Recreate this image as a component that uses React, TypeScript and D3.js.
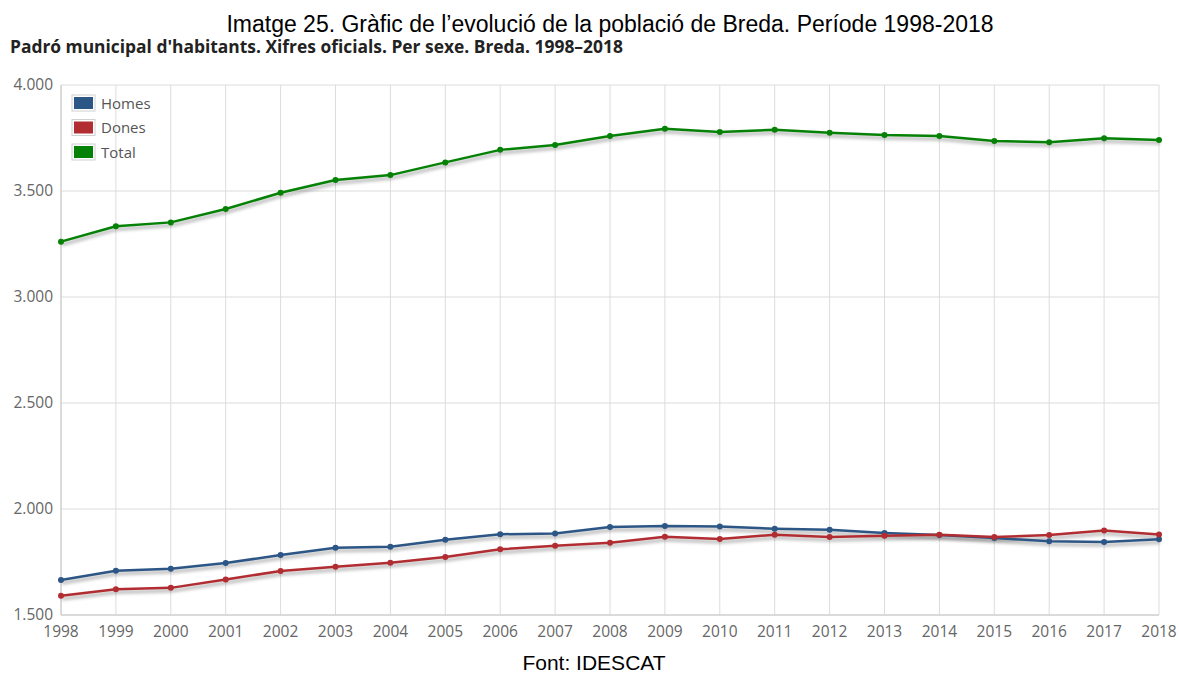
import React from "react";
import * as d3 from "d3";

const years = d3.range(1998, 2019);
const homes = [1665, 1709, 1718, 1745, 1783, 1817, 1822, 1855, 1881, 1884, 1915, 1920, 1917, 1907, 1902, 1887, 1877, 1863, 1848, 1844, 1857];
const dones = [1591, 1621, 1628, 1667, 1708, 1728, 1747, 1774, 1810, 1827, 1841, 1869, 1858, 1879, 1868, 1874, 1879, 1868, 1877, 1899, 1880];
const total = [3261, 3334, 3352, 3415, 3492, 3552, 3575, 3635, 3694, 3717, 3759, 3794, 3778, 3789, 3775, 3764, 3759, 3736, 3730, 3749, 3741];
const yTicks = [1500, 2000, 2500, 3000, 3500, 4000];

const series = [
  { name: "Homes", color: "#2c5685", values: homes },
  { name: "Dones", color: "#b12d31", values: dones },
  { name: "Total", color: "#058205", values: total },
];

const W = 1179, H = 675;
const M = { left: 61, right: 1159, top: 85, bottom: 615 };

export default function App() {
  const x = d3.scaleLinear().domain([1998, 2018]).range([M.left, M.right]);
  const y = d3.scaleLinear().domain([1500, 4000]).range([M.bottom, M.top]);
  const fmt = (v: number) => d3.format(",")(v).replace(/,/g, ".");
  const line = (vals: number[]) =>
    d3.line<number>().x((_, i) => x(years[i])).y((d) => y(d))(vals) || "";
  const sans = "'Open Sans', 'Noto Sans', sans-serif";
  const arial = "'Liberation Sans', Arial, sans-serif";
  return (
    <svg width={W} height={H} style={{ position: "absolute", left: 0, top: 0, background: "#fff" }}>
      <defs>
        <filter id="sh" x="-5%" y="-50%" width="110%" height="200%">
          <feGaussianBlur stdDeviation="1.6" />
        </filter>
      </defs>
      <text x={610} y={32} textAnchor="middle" fontFamily={arial} fontSize={23} fill="#000">
        Imatge 25. Gràfic de l’evolució de la població de Breda. Període 1998-2018
      </text>
      <text x={10} y={53} fontFamily={sans} fontWeight="bold" fontSize={17.4} fill="#222">
        Padró municipal d'habitants. Xifres oficials. Per sexe. Breda. 1998–2018
      </text>
      {/* grid */}
      {yTicks.map((t) => (
        <line key={"gy" + t} x1={M.left} x2={M.right} y1={y(t)} y2={y(t)} stroke="#dcdcdc" strokeWidth={1} />
      ))}
      {years.map((yr) => (
        <line key={"gx" + yr} x1={x(yr)} x2={x(yr)} y1={M.top} y2={M.bottom} stroke="#dcdcdc" strokeWidth={1} />
      ))}
      <line x1={M.left} x2={M.left} y1={M.top} y2={M.bottom} stroke="#c8c8c8" />
      <line x1={M.left} x2={M.right} y1={M.bottom} y2={M.bottom} stroke="#c8c8c8" />
      {yTicks.map((t) => (
        <text key={"ty" + t} x={53} y={y(t) + 5} textAnchor="end" fontFamily={sans} fontSize={15.5} fill="#666">
          {fmt(t)}
        </text>
      ))}
      {years.map((yr) => (
        <text key={"tx" + yr} x={x(yr)} y={637} textAnchor="middle" fontFamily={sans} fontSize={15.5} fill="#666">
          {yr}
        </text>
      ))}
      {/* shadows */}
      {series.map((s) => (
        <path key={"sh" + s.name} d={line(s.values)} transform="translate(1,3)" fill="none" stroke="#000" strokeOpacity={0.22} strokeWidth={4} filter="url(#sh)" />
      ))}
      {series.map((s) => (
        <g key={s.name}>
          <path d={line(s.values)} fill="none" stroke={s.color} strokeWidth={2.5} strokeLinejoin="round" />
          {s.values.map((v, i) => (
            <circle key={i} cx={x(years[i])} cy={y(v)} r={3} fill={s.color} />
          ))}
        </g>
      ))}
      {/* legend */}
      {series.map((s, i) => (
        <g key={"lg" + s.name} transform={`translate(0, ${i * 24.5})`}>
          <rect x={72} y={95} width={23} height={16} fill="#fff" stroke="#d0d0d0" />
          <rect x={74} y={97} width={19} height={12} fill={s.color} />
          <text x={101} y={108.5} fontFamily={sans} fontSize={15} fill="#555">{s.name}</text>
        </g>
      ))}
      <text x={594} y={670} textAnchor="middle" fontFamily={arial} fontSize={21} fill="#000">
        Font: IDESCAT
      </text>
    </svg>
  );
}
